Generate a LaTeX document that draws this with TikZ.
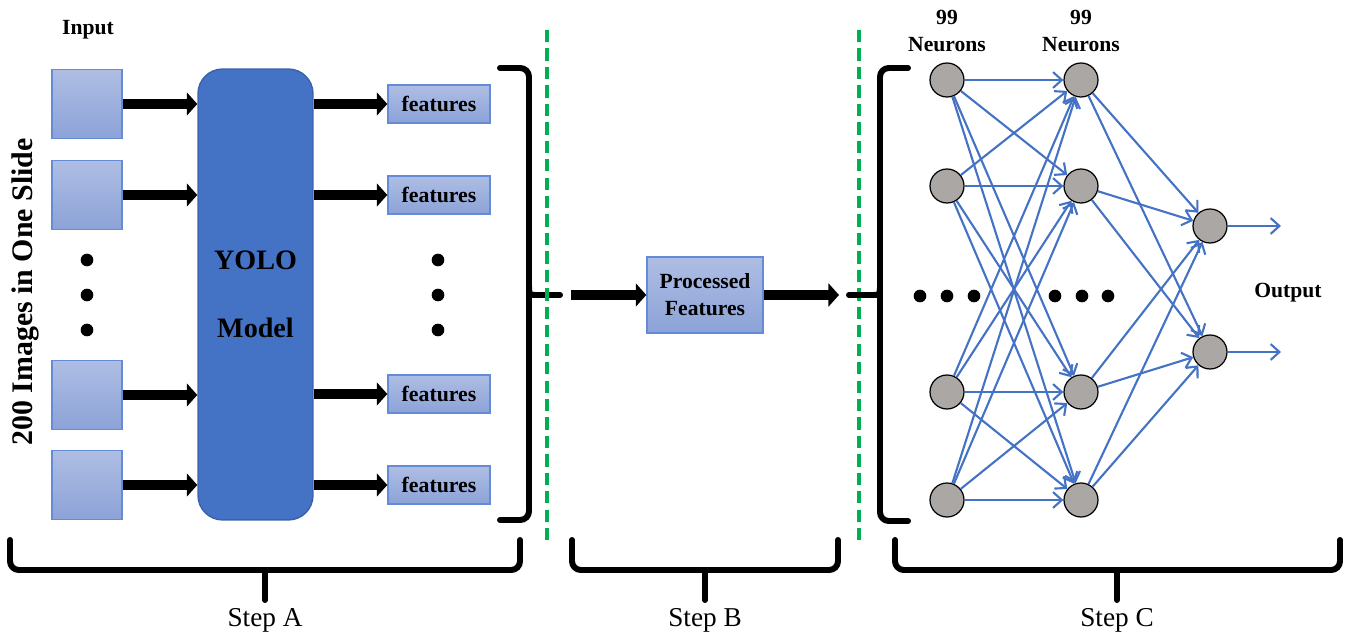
\documentclass[tikz,border=0pt]{standalone}
\usepackage{fontspec}
\setmainfont{Liberation Serif}
\usetikzlibrary{arrows.meta}

\definecolor{boxtop}{RGB}{174,189,227}
\definecolor{boxbot}{RGB}{140,163,216}
\definecolor{boxedge}{RGB}{100,140,214}
\definecolor{yoloblue}{RGB}{68,114,196}
\definecolor{yoloedge}{RGB}{58,98,172}
\definecolor{neurongray}{RGB}{170,167,165}
\definecolor{linkblue}{RGB}{68,114,196}
\definecolor{sepgreen}{RGB}{0,176,80}

\tikzset{
  imgbox/.style={draw=boxedge, line width=0.8pt, top color=boxtop, bottom color=boxbot,
    minimum width=1.4cm, minimum height=1.38cm, inner sep=0pt},
  featbox/.style={imgbox, minimum width=2.04cm, minimum height=0.76cm,
    font=\fontsize{12.4}{14}\selectfont\bfseries},
  neuron/.style={circle, draw, line width=0.7pt, fill=neurongray, minimum size=0.68cm, inner sep=0pt},
  fatarrow/.style={line width=6pt, -{Triangle[length=6pt,width=13pt]}},
  link/.style={draw=linkblue, line width=1.2pt, -{Straight Barb[length=5pt,width=9pt]}},
  bracket/.style={line width=3.4pt, line cap=round, line join=round, rounded corners=5pt},
  separator/.style={draw=sepgreen, line width=2pt, dash pattern=on 7pt off 3.5pt},
  boldlabel/.style={font=\fontsize{12.3}{15.4}\selectfont\bfseries, align=center},
  steplabel/.style={font=\fontsize{15.5}{18}\selectfont},
}

\begin{document}
\begin{tikzpicture}[x=0.02cm, y=-0.02cm]
  \useasboundingbox (0,0) rectangle (1350,641);
  % step A: inputs, model, features
  \node[boldlabel] (input) at (88,30) {Input};
  \node[rotate=90, font=\fontsize{17}{20}\selectfont\bfseries] (slide) at (25,292) {200 Images in One Slide};
  \foreach \n/\y in {1/104, 2/195, 3/395, 4/485}
    \node[imgbox] (in\n) at (87,\y) {};
  \node[draw=yoloedge, line width=0.8pt, fill=yoloblue, rounded corners=14pt,
        minimum width=2.3cm, minimum height=9.02cm, align=center,
        font=\fontsize{16}{38.5}\selectfont\bfseries] (yolo) at (255.5,294.5) {YOLO\\Model};
  \foreach \n/\y in {1/104, 2/195, 3/394, 4/485}
    \node[featbox] (feat\n) at (439,\y) {features};
  \foreach \n in {1,...,4} {
    \draw[fatarrow] (in\n.east) -- (in\n.east -| yolo.west);
    \draw[fatarrow] (yolo.east |- feat\n) -- (feat\n.west);
  }
  \foreach \y in {260, 295, 330} {
    \fill (87,\y) circle (3.6pt);
    \fill (438,\y) circle (3.6pt);
  }
  \draw[bracket] (500,68) -| (529,520) -- (500,520);
  \draw[bracket] (529,284) .. controls (529,295) .. (545,295) -- (560,295);

  % separators
  \draw[separator] (547,30) -- (547,542);
  \draw[separator] (859,30) -- (859,542);

  % step B
  \node[featbox, minimum width=2.32cm, minimum height=1.52cm, boldlabel] (proc) at (705,295) {Processed\\Features};
  \coordinate (bin) at (571,295);
  \coordinate (bout) at (839,295);
  \draw[fatarrow] (bin) -- (proc.west);
  \draw[fatarrow] (proc.east) -- (bout);

  % step C: network
  \draw[bracket] (908,68) -| (880,521) -- (908,521);
  \draw[bracket] (880,284) .. controls (880,295) .. (864,295) -- (849,295);
  \foreach \n/\y in {1/80, 2/186, 3/392, 4/500} {
    \node[neuron] (a\n) at (947,\y) {};
    \node[neuron] (b\n) at (1081,\y) {};
  }
  \node[neuron] (c1) at (1210,226) {};
  \node[neuron] (c2) at (1210,352) {};
  \node[boldlabel] (layera) at (947,31) {99\\Neurons};
  \node[boldlabel] (layerb) at (1081,31) {99\\Neurons};
  \node[boldlabel] (output) at (1288,293) {Output};
  \foreach \i in {1,...,4} {
    \foreach \j in {1,...,4}
      \draw[link] (a\i) -- (b\j);
    \draw[link] (b\i) -- (c1);
    \draw[link] (b\i) -- (c2);
  }
  \coordinate (o1) at (1281,226);
  \coordinate (o2) at (1281,352);
  \draw[link] (c1) -- (o1);
  \draw[link] (c2) -- (o2);
  \foreach \x in {920, 947, 974, 1055, 1082, 1108}
    \fill (\x,296) circle (3.6pt);

  % bottom braces
  \draw[bracket] (10,540) |- (520,570) -- (520,540);
  \draw[bracket] (265,570) -- (265,600);
  \node[steplabel] (stepa) at (265,620) {Step A};
  \draw[bracket] (572,540) |- (838,570) -- (838,540);
  \draw[bracket] (705,570) -- (705,600);
  \node[steplabel] (stepb) at (705,620) {Step B};
  \draw[bracket] (895,540) |- (1340,570) -- (1340,540);
  \draw[bracket] (1117,570) -- (1117,600);
  \node[steplabel] (stepc) at (1117,620) {Step C};
\end{tikzpicture}
\end{document}
